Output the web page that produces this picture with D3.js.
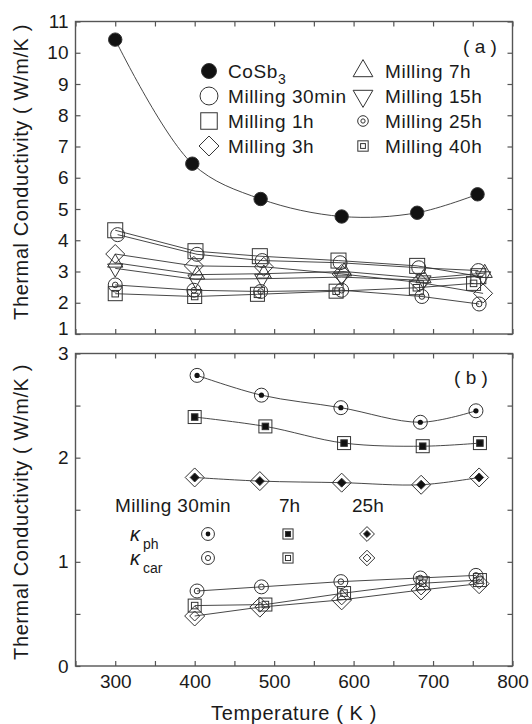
<!DOCTYPE html>
<html>
<head>
<meta charset="utf-8">
<script src="https://cdn.jsdelivr.net/npm/d3@7"></script>
<style>
  body { margin: 0; background: #fff; }
  svg { display: block; }
  text { font-family: "Liberation Sans", Arial, Helvetica, sans-serif; fill: #1a1a1a; }
</style>
</head>
<body>
<div id="chart"></div>
<script>
// ---- panel (a): total thermal conductivity ----
const tCoSb3 = [300, 397, 483, 585, 680, 756];
const kCoSb3 = [10.42, 6.45, 5.32, 4.76, 4.88, 5.47];

const t30min = [303, 403, 485, 583, 682, 757];
const k30min = [4.18, 3.55, 3.35, 3.28, 3.12, 3.03];
const t1h = [300, 401, 482, 581, 680, 757];
const k1h = [4.32, 3.65, 3.49, 3.35, 3.18, 2.85];
const t3h = [300, 399, 487, 585, 683, 763];
const k3h = [3.56, 3.18, 3.15, 2.92, 2.65, 2.30];
const t7h = [300, 403, 487, 588, 688, 765];
const k7h = [3.28, 2.90, 2.93, 3.00, 2.78, 2.95];
const t15h = [300, 401, 485, 585, 688, 763];
const k15h = [3.10, 2.75, 2.77, 2.82, 2.72, 2.85];
const t25h = [300, 399, 483, 585, 686, 758];
const k25h = [2.57, 2.40, 2.36, 2.40, 2.20, 1.96];
const t40h = [300, 400, 479, 578, 679, 751];
const k40h = [2.29, 2.20, 2.27, 2.37, 2.48, 2.62];

// ---- panel (b): phonon and carrier parts ----
const tB30min = [403, 484, 584, 684, 754];
const tB7h = [400, 489, 588, 687, 759];
const tB25h = [400, 482, 585, 685, 758];
const kph30min = [2.79, 2.60, 2.48, 2.34, 2.45];
const kph7h = [2.39, 2.30, 2.14, 2.11, 2.14];
const kph25h = [1.81, 1.775, 1.76, 1.74, 1.81];
const kcar30min = [0.72, 0.76, 0.81, 0.845, 0.87];
const kcar7h = [0.58, 0.59, 0.70, 0.795, 0.825];
const kcar25h = [0.48, 0.565, 0.635, 0.73, 0.79];

const xTicks = d3.range(250, 801, 50);
const yTicksA = d3.range(1, 12, 1);
const yTicksB = d3.range(0, 3.01, 0.5);

const width = 532, height = 724;
const left = 75.5, right = 512.5;

const svg = d3.select("#chart").append("svg")
    .attr("width", width)
    .attr("height", height);

const x = d3.scaleLinear().domain([250, 800]).range([left, right]);
const ya = d3.scaleLinear().domain([1, 11]).range([334, 21.5]);
const yb = d3.scaleLinear().domain([0, 3]).range([666, 353.5]);

const lineCol = "#333", frameCol = "#555";

function drawFrame(y, showX, yFmt) {
  const g = svg.append("g");
  const [y0, y1] = y.range();
  const yt = y === ya ? yTicksA : yTicksB;

  const axes = [
    [d3.axisBottom(x).tickValues(xTicks).tickSize(-5).tickPadding(9)
       .tickFormat(d => showX && d % 100 === 0 && d > 250 ? d : ""), `translate(0,${y0})`],
    [d3.axisTop(x).tickValues(xTicks).tickSize(-5).tickFormat(""), `translate(0,${y1})`],
    [d3.axisLeft(y).tickValues(yt).tickSize(-5).tickPadding(7).tickFormat(yFmt), `translate(${left},0)`],
    [d3.axisRight(y).tickValues(yt).tickSize(-5).tickFormat(""), `translate(${right},0)`]
  ];
  axes.forEach(([ax, tr]) => {
    const a = g.append("g").attr("transform", tr).call(ax.tickSizeOuter(0));
    a.select(".domain").remove();
    a.selectAll("line").attr("stroke", frameCol).attr("stroke-width", 1.2);
    a.selectAll("text").attr("font-size", 19).attr("fill", "#1a1a1a")
      .attr("font-family", '"Liberation Sans", Arial, sans-serif');
  });
  g.append("rect")
    .attr("x", left).attr("y", y1)
    .attr("width", right - left).attr("height", y0 - y1)
    .attr("fill", "none").attr("stroke", frameCol).attr("stroke-width", 1.4);
  return g;
}

const frameA = drawFrame(ya, false, d => d);
drawFrame(yb, true, d => Number.isInteger(d) ? d : "");
// bottom label of panel (a) sits a little higher, clear of the "3" below
frameA.selectAll(".tick text").filter(d => d === 1).attr("dy", "0.05em");

// markers
function marker(g, type, cx, cy, s) {
  s = s || 1;
  const m = g.append("g").attr("transform", `translate(${cx},${cy})`)
    .attr("stroke", lineCol).attr("stroke-width", 1).attr("fill", "none");
  const sq = (side, fill) => m.append("rect").attr("x", -side / 2).attr("y", -side / 2)
    .attr("width", side).attr("height", side).attr("fill", fill || "none");
  const dia = (h, fill) => m.append("path")
    .attr("d", `M0,${-h}L${h},0L0,${h}L${-h},0Z`).attr("fill", fill || "none");
  const circ = (r, fill) => m.append("circle").attr("r", r).attr("fill", fill || "none");
  switch (type) {
    case "dot": circ(6.7 * s, "#111"); break;
    case "circle": circ(7 * s); break;
    case "square": sq(15 * s); break;
    case "diamond": dia(9.5 * s); break;
    case "triUp": m.append("path").attr("d", d3.symbol(d3.symbolTriangle, 100 * s * s)); break;
    case "triDown": m.append("path").attr("d", d3.symbol(d3.symbolTriangle, 100 * s * s)).attr("transform", "rotate(180)"); break;
    case "dblCircle": circ(7 * s); circ(2.8 * s); break;
    case "dblSquare": sq(14 * s); sq(6.5 * s); break;
    case "dotCircle": circ(7 * s); circ(2.6 * s, "#111").attr("stroke", "none"); break;
    case "fillSquare": sq(13 * s); sq(6.5 * s, "#111"); break;
    case "fillDiamond": dia(9.5 * s); dia(4.5 * s, "#111"); break;
    case "openCircle2": circ(7 * s); circ(2.8 * s); break;
    case "openSquare2": sq(13 * s); sq(6.5 * s); break;
    case "openDiamond2": dia(10 * s); dia(5 * s); break;
  }
}

function series(y, ts, ks, type, curve) {
  const pts = ts.map((t, i) => [x(t), y(ks[i])]);
  svg.append("path")
    .attr("d", d3.line().curve(curve || d3.curveLinear)(pts))
    .attr("fill", "none").attr("stroke", lineCol).attr("stroke-width", 0.9);
  const g = svg.append("g");
  pts.forEach(p => marker(g, type, p[0], p[1]));
}

const smooth = d3.curveCatmullRom.alpha(0.5);

// panel (a)
series(ya, t40h, k40h, "dblSquare");
series(ya, t25h, k25h, "dblCircle");
series(ya, t15h, k15h, "triDown");
series(ya, t7h, k7h, "triUp");
series(ya, t3h, k3h, "diamond");
series(ya, t1h, k1h, "square");
series(ya, t30min, k30min, "circle");
series(ya, tCoSb3, kCoSb3, "dot", smooth);

// panel (b)
series(yb, tB30min, kph30min, "dotCircle", smooth);
series(yb, tB7h, kph7h, "fillSquare", smooth);
series(yb, tB25h, kph25h, "fillDiamond", smooth);
series(yb, tB30min, kcar30min, "openCircle2");
series(yb, tB7h, kcar7h, "openSquare2");
series(yb, tB25h, kcar25h, "openDiamond2");

// legend (a)
const legA = [
  ["dot", "CoSb", 209, 228, 71, 1.12],
  ["circle", "Milling 30min", 209, 228, 96, 1.28],
  ["square", "Milling 1h", 209, 228, 121, 1.1],
  ["diamond", "Milling 3h", 209, 228, 146, 1.05],
  ["triUp", "Milling 7h", 363, 385, 71, 1.3],
  ["triDown", "Milling 15h", 363, 385, 96, 1.3],
  ["dblCircle", "Milling 25h", 363, 385, 121, 0.76],
  ["dblSquare", "Milling 40h", 363, 385, 146, 0.74]
];
const lg = svg.append("g");
legA.forEach(([type, label, mx, tx, ty, s]) => {
  marker(lg, type, mx, ty, s);
  const t = lg.append("text").attr("x", tx).attr("y", ty + 7)
    .attr("font-size", 19).attr("letter-spacing", 0.6).text(label);
  if (label === "CoSb") t.append("tspan").attr("dy", 6).attr("font-size", 14).text("3");
});

svg.append("text").attr("x", 480).attr("y", 53).attr("text-anchor", "middle")
  .attr("font-size", 19).attr("xml:space", "preserve").text("( a )");
svg.append("text").attr("x", 471).attr("y", 384).attr("text-anchor", "middle")
  .attr("font-size", 19).attr("xml:space", "preserve").text("( b )");

// legend (b)
const legB = svg.append("g");
legB.append("text").attr("x", 115).attr("y", 512).attr("font-size", 19)
  .attr("letter-spacing", 0.4).text("Milling 30min");
legB.append("text").attr("x", 279).attr("y", 512).attr("font-size", 19).text("7h");
legB.append("text").attr("x", 352).attr("y", 512).attr("font-size", 19).text("25h");
[["ph", 541, ["dotCircle", "fillSquare", "fillDiamond"]],
 ["car", 565, ["openCircle2", "openSquare2", "openDiamond2"]]].forEach(([sub, by, types]) => {
  const t = legB.append("text").attr("x", 130).attr("y", by).attr("font-size", 20)
    .attr("font-style", "italic");
  t.append("tspan").text("κ");
  t.append("tspan").attr("dx", 3).attr("dy", 8).attr("font-size", 14).attr("font-style", "normal").text(sub);
  types.forEach((ty, i) => marker(legB, ty, [208, 288, 367][i], by - 7, i === 0 ? 0.92 : 0.78));
});

// axis titles
[[172], [512]].forEach(([cy]) => {
  svg.append("text")
    .attr("transform", `translate(28,${cy}) rotate(-90)`)
    .attr("text-anchor", "middle").attr("font-size", 20).attr("letter-spacing", 0.6)
    .attr("xml:space", "preserve")
    .text("Thermal Conductivity ( W/m/K )");
});
svg.append("text").attr("x", 294).attr("y", 720).attr("text-anchor", "middle")
  .attr("font-size", 20).attr("letter-spacing", 0.6).text("Temperature ( K )");
</script>
</body>
</html>
